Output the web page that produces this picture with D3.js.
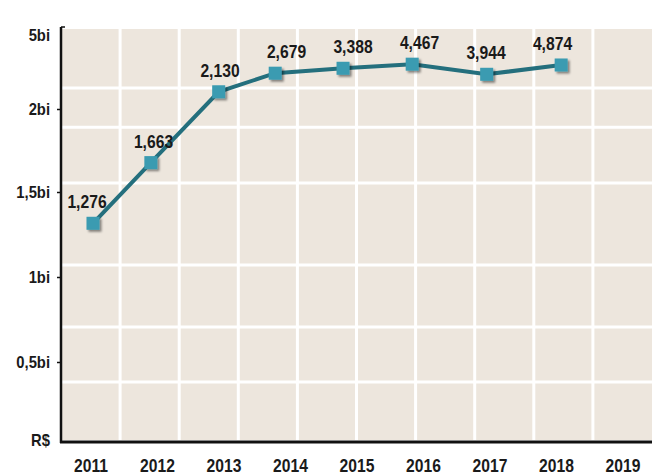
<!DOCTYPE html>
<html>
<head>
<meta charset="utf-8">
<script src="https://cdn.jsdelivr.net/npm/d3@7"></script>
<style>
  html, body { margin: 0; padding: 0; background: #ffffff; }
  svg text { font-family: 'Liberation Sans', Arial, sans-serif; font-weight: bold; fill: #1a1a1a; }
</style>
</head>
<body>
<div id="chart"></div>
<script>
// years along the bottom axis
const years = [2011, 2012, 2013, 2014, 2015, 2016, 2017, 2018, 2019];

// series: where each point sits (year position, value on the y axis) and its printed label
const pointYears = [2011, 2012, 2013, 2014, 2015, 2016, 2017, 2018];
const pointXPos = [2011.03, 2011.9, 2012.92, 2013.77, 2014.79, 2015.83, 2016.95, 2018.07];
const pointValues = [1.316, 1.677, 2.63, 3.31, 3.49, 3.64, 3.27, 3.61];
const valueLabels = ['1,276', '1,663', '2,130', '2,679', '3,388', '4,467', '3,944', '4,874'];

// y axis ticks (billions) and labels
const yTicks = [0, 0.5, 1, 1.5, 2, 5];
const yTickLabels = ['R$', '0,5bi', '1bi', '1,5bi', '2bi', '5bi'];

// horizontal white grid lines (in y axis units)
const gridValues = [0.372, 0.706, 1.07, 1.554, 1.89, 2.77];
const gridColumns = 10;

const width = 652, height = 476;
const squeeze = 0.87; // condensed look
const colors = {
    bg: '#ede6dd',
    grid: '#ffffff',
    line: '#246f7d',
    marker: '#3a9bb1',
    axis: '#111111'
};

const svg = d3.select('#chart')
    .append('svg')
    .attr('width', width)
    .attr('height', height);

// drop shadow for markers
const defs = svg.append('defs');
const filter = defs.append('filter')
    .attr('id', 'shadow')
    .attr('x', '-50%').attr('y', '-50%')
    .attr('width', '200%').attr('height', '200%');
filter.append('feDropShadow')
    .attr('dx', 2).attr('dy', 2)
    .attr('stdDeviation', 1.2)
    .attr('flood-color', '#000')
    .attr('flood-opacity', 0.45);

// scales
const xScale = d3.scaleLinear().domain([2011, 2019]).range([91, 623]);
const yScale = d3.scaleLinear().domain(yTicks).range([440, 362, 277, 192, 109, 27]);
const plotLeft = 61, plotRight = width, plotTop = 29, plotBottom = 440;
const colScale = d3.scaleLinear().domain([0, gridColumns]).range([plotLeft, plotRight]);

// condensed text helper
function label(parent, x, y, txt, size, anchor) {
    parent.append('text')
        .attr('transform', `translate(${x},${y}) scale(${squeeze},1)`)
        .attr('text-anchor', anchor)
        .style('font-size', size + 'px')
        .text(txt);
}

// plot background
svg.append('rect')
    .attr('x', plotLeft)
    .attr('y', plotTop)
    .attr('width', plotRight - plotLeft)
    .attr('height', plotBottom - plotTop)
    .attr('fill', colors.bg);

// grid
svg.append('g')
    .selectAll('line')
    .data(d3.range(1, gridColumns))
    .enter().append('line')
    .attr('x1', d => colScale(d))
    .attr('x2', d => colScale(d))
    .attr('y1', plotTop)
    .attr('y2', plotBottom)
    .attr('stroke', colors.grid)
    .attr('stroke-width', 3);

svg.append('g')
    .selectAll('line')
    .data(gridValues)
    .enter().append('line')
    .attr('x1', plotLeft)
    .attr('x2', plotRight)
    .attr('y1', d => yScale(d))
    .attr('y2', d => yScale(d))
    .attr('stroke', colors.grid)
    .attr('stroke-width', 3);

// y axis: ticks from d3, labels condensed
const yAxis = d3.axisLeft(yScale)
    .tickValues(yTicks)
    .tickSize(4)
    .tickFormat('');

const yG = svg.append('g')
    .attr('transform', `translate(${plotLeft},0)`)
    .call(yAxis);
yG.select('.domain').remove();
yG.selectAll('.tick line').attr('stroke', colors.axis).attr('stroke-width', 1.5);
yG.selectAll('.tick').filter((d, i) => i === 0 || i === yTicks.length - 1).select('line').remove();

const yLabels = svg.append('g');
yTicks.forEach((t, i) => {
    const shift = i === yTicks.length - 1 ? 8 : 0;
    label(yLabels, plotLeft - 11, yScale(t) + 6 + shift, yTickLabels[i], 17, 'end');
});

svg.append('line')
    .attr('x1', plotLeft).attr('x2', plotLeft)
    .attr('y1', yScale(5)).attr('y2', plotBottom + 3)
    .attr('stroke', colors.axis).attr('stroke-width', 2.5);
svg.append('line')
    .attr('x1', plotLeft).attr('x2', plotLeft + 4)
    .attr('y1', yScale(5)).attr('y2', yScale(5))
    .attr('stroke', colors.axis).attr('stroke-width', 1.5);

// x axis
svg.append('line')
    .attr('x1', plotLeft - 1).attr('x2', plotRight)
    .attr('y1', plotBottom + 2).attr('y2', plotBottom + 2)
    .attr('stroke', colors.axis).attr('stroke-width', 3);

const xLabels = svg.append('g');
years.forEach(y => label(xLabels, xScale(y), 471.5, y, 18, 'middle'));

// series
const points = pointYears.map((year, i) => ({
    year: year,
    xPos: pointXPos[i],
    value: pointValues[i],
    label: valueLabels[i]
}));

const line = d3.line()
    .x(d => xScale(d.xPos))
    .y(d => yScale(d.value));

svg.append('path')
    .datum(points)
    .attr('fill', 'none')
    .attr('stroke', colors.line)
    .attr('stroke-width', 4)
    .attr('d', line);

const size = 13;
svg.append('g')
    .selectAll('rect')
    .data(points)
    .enter().append('rect')
    .attr('x', d => xScale(d.xPos) - size / 2)
    .attr('y', d => yScale(d.value) - size / 2)
    .attr('width', size)
    .attr('height', size)
    .attr('fill', colors.marker)
    .attr('filter', 'url(#shadow)');

const valueG = svg.append('g');
points.forEach(d => label(valueG, xScale(d.year) - 4, yScale(d.value) - 15, d.label, 18, 'middle'));
</script>
</body>
</html>
